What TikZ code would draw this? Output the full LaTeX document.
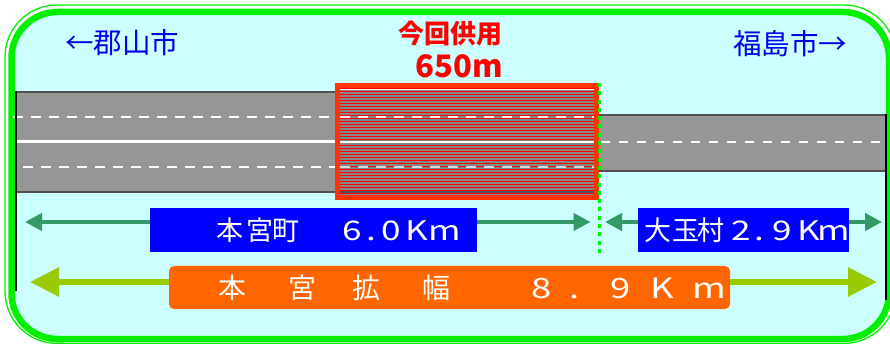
\documentclass[tikz,border=0pt]{standalone}
\usepackage{fontspec}
\setmainfont{Noto Sans CJK JP}
\newfontfamily\wl[FakeStretch=1.3]{Noto Sans CJK JP}
\usetikzlibrary{arrows.meta}
\definecolor{bgcyan}{HTML}{CCFFFF}
\definecolor{framegreen}{HTML}{00F000}
\definecolor{roadgrey}{HTML}{969696}
\definecolor{roadedge}{HTML}{505050}
\definecolor{boxred}{HTML}{FF3300}
\definecolor{stripered}{HTML}{FF0000}
\definecolor{txtblue}{HTML}{0000EE}
\definecolor{boxblue}{HTML}{0000FF}
\definecolor{boxorange}{HTML}{FF6600}
\definecolor{arrgreen}{HTML}{339966}
\definecolor{arrlime}{HTML}{99CC00}
\definecolor{dotgreen}{HTML}{00EE00}
\newcommand\gbox[2]{\makebox[#1pt][l]{#2}}
\begin{document}
\begin{tikzpicture}[x=1pt,y=-1pt,
  toptext/.style={inner sep=0pt, text=txtblue, font=\fontsize{28.5}{30}\selectfont},
  blubox/.style={fill=boxblue, text=white, inner sep=0pt, minimum height=44pt, font=\fontsize{27}{30}\selectfont},
  orbox/.style={fill=boxorange, text=white, inner sep=0pt, minimum height=43pt, rounded corners=5pt, font=\fontsize{28}{30}\selectfont},
  garrow/.style={arrgreen, line width=4.5pt, -{Triangle[length=17pt,width=17pt]}},
  larrow/.style={arrlime, line width=6pt, -{Triangle[length=29pt,width=28pt]}},
  dashmark/.style={white, line width=2.5pt, dash pattern=on 10pt off 8pt},
  edgeline/.style={roadedge, line width=1.5pt}
]
\useasboundingbox (0,0) rectangle (890,344);
\fill[white] (0,0) rectangle (890,344);
% frame
\draw[framegreen, line width=1.3pt, rounded corners=52pt] (5,5) rectangle (896,343.4);
\draw[framegreen, fill=bgcyan, line width=6.5pt, rounded corners=46pt] (11.5,12) rectangle (889,339);
% left road
\fill[roadgrey] (16,92) rectangle (335,192);
\draw[edgeline] (16,92) -- (335,92);
\draw[edgeline] (16,192) -- (335,192);
\draw[dashmark] (13,117) -- (335,117);
\draw[white, line width=3pt] (16,142) -- (335,142);
\draw[dashmark, dash phase=13pt] (18,167) -- (335,167);
\draw[black, line width=1.8pt] (16,91.5) -- (16,291);
% right road
\fill[roadgrey] (599,115) rectangle (886,171);
\draw[edgeline] (599,115) -- (886,115);
\draw[edgeline] (599,171) -- (886,171);
\draw[white, line width=2.5pt, dash pattern=on 9pt off 9pt] (601,142) -- (880,142);
\draw[black, line width=1.8pt] (886,114.5) -- (886,300);
% red section
\fill[boxred] (335,83) rectangle (599,200);
\begin{scope}
  \clip (340,88) rectangle (594,195);
  \fill[roadgrey!90!black] (340,88) rectangle (594,195);
  \foreach \yy in {88.5,91.5,...,195} \draw[stripered, line width=1.6pt] (340,\yy) -- (594,\yy);
  \draw[white, line width=1.3pt] (340,89.5) -- (594,89.5);
  \draw[white!85!gray, line width=2.2pt, dash pattern=on 10pt off 8pt] (340,117) -- (594,117);
  \draw[white, line width=2.2pt] (340,142) -- (594,142);
  \draw[white!70!gray, line width=2.2pt, dash pattern=on 10pt off 8pt] (340,167) -- (594,167);
  \draw[roadedge, line width=1.5pt] (340,192) -- (594,192);
\end{scope}
% boundary dotted line
\coordinate (d1) at (599.5,83);
\coordinate (d2) at (599.5,256);
\draw[dotgreen, line width=3.5pt, dash pattern=on 4pt off 4.3pt] (d1) -- (d2);
% top texts
\node[toptext] (koriyama) at (122,43) {←郡山市};
\node[toptext] (fukushima) at (790,44) {福島市→};
\node[inner sep=0pt, text=red, font=\fontsize{26}{28}\selectfont\bfseries] (kaisu) at (450,34) {今回供用};
\node[inner sep=0pt, text=red, font=\fontsize{31}{33}\selectfont\bfseries] (len) at (459,66) {650m};
% boxes
\node[blubox, minimum width=327pt] (b1) at (313.5,230)
  {\makebox[327pt][l]{\hspace*{66pt}\gbox{30}{本}\gbox{26}{宮}\gbox{70}{町}{\wl\gbox{25}{6}\gbox{15}{.}\gbox{24}{0}\gbox{22}{K}m}}};
\node[blubox, minimum width=211pt] (b2) at (743.5,230)
  {\makebox[211pt][l]{\hspace*{6pt}\gbox{28}{大}\gbox{25}{玉}\gbox{34}{村}{\wl\gbox{24}{2}\gbox{17}{.}\gbox{25}{9}\gbox{20}{K}m}}};
\node[orbox, minimum width=561pt] (b3) at (449.5,287.5)
  {\makebox[561pt][l]{\hspace*{49pt}\gbox{71}{本}\gbox{64}{宮}\gbox{70}{拡}\gbox{108}{幅}{\wl\gbox{39}{8}\gbox{41}{.}\gbox{40}{9}\gbox{41}{K}m}}};
% arrows
\coordinate (t1) at (25,222);
\coordinate (t2) at (590.5,222);
\coordinate (t3) at (605,222);
\coordinate (t4) at (882,222);
\coordinate (t5) at (30,282);
\coordinate (t6) at (877,282);
\draw[garrow] (b1.west |- t1) -- (t1);
\draw[garrow] (b1.east |- t2) -- (t2);
\draw[garrow] (b2.west |- t3) -- (t3);
\draw[garrow] (b2.east |- t4) -- (t4);
\draw[larrow] (b3.west |- t5) -- (t5);
\draw[larrow] (b3.east |- t6) -- (t6);
\end{tikzpicture}
\end{document}
